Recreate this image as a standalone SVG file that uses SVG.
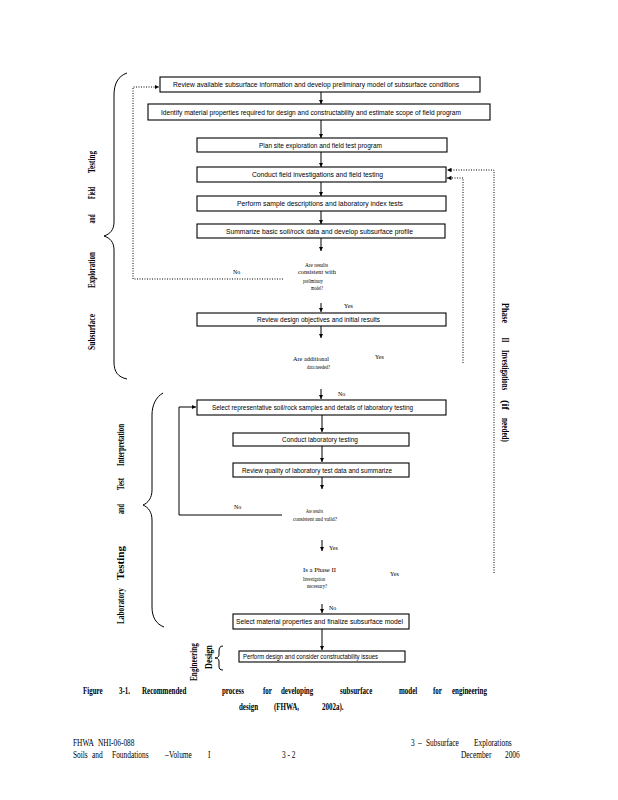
<svg xmlns="http://www.w3.org/2000/svg" width="618" height="800" viewBox="0 0 618 800">
<style>
.box{fill:#fff;stroke:#000;stroke-width:1.1}
.bt{font-family:"Liberation Sans",Arial,sans-serif;font-size:6.5px;fill:#000;text-anchor:start}
.dt{font-family:"Liberation Serif","Times New Roman",serif;font-size:5.5px;fill:#000}
.yn{font-family:"Liberation Serif","Times New Roman",serif;font-size:6px;fill:#000}
.lbl{font-family:"Liberation Serif","Times New Roman",serif;font-size:10px;font-weight:bold;fill:#000;text-anchor:middle}
.cap{font-family:"Liberation Serif","Times New Roman",serif;font-size:10px;font-weight:bold;fill:#000}
.ft{font-family:"Liberation Serif","Times New Roman",serif;font-size:10px;fill:#000}
.ln{fill:none;stroke:#000;stroke-width:1}
.dot{fill:none;stroke:#000;stroke-width:1;stroke-dasharray:1,1.5}
</style>
<defs>
<marker id="ah" viewBox="0 0 6 6" refX="6" refY="3" markerWidth="4.5" markerHeight="4.5" markerUnits="userSpaceOnUse" orient="auto"><path d="M0,0 L6,3 L0,6 z" fill="#000"/></marker>
</defs>
<rect width="618" height="800" fill="#fff"/>

<g id="connectors">
<path class="ln" d="M321,92 V104" marker-end="url(#ah)"/>
<path class="ln" d="M321,120 V138" marker-end="url(#ah)"/>
<path class="ln" d="M321,152 V167" marker-end="url(#ah)"/>
<path class="ln" d="M321,182 V196" marker-end="url(#ah)"/>
<path class="ln" d="M321,211 V224" marker-end="url(#ah)"/>
<path class="ln" d="M321,238 V251" marker-end="url(#ah)"/>
<path class="ln" d="M321,303 V312" marker-end="url(#ah)"/>
<path class="ln" d="M321,326 V338" marker-end="url(#ah)"/>
<path class="ln" d="M321,389 V399" marker-end="url(#ah)"/>
<path class="ln" d="M322,415 V432" marker-end="url(#ah)"/>
<path class="ln" d="M322,446 V462" marker-end="url(#ah)"/>
<path class="ln" d="M322,477 V489" marker-end="url(#ah)"/>
<path class="ln" d="M322,540 V551" marker-end="url(#ah)"/>
<path class="ln" d="M322,604 V613" marker-end="url(#ah)"/>
<path class="ln" d="M322,629 V650" marker-end="url(#ah)"/>
<path class="ln" d="M282,515 H179 V407 H196" marker-end="url(#ah)"/>
<path class="dot" d="M283,279 H133 V87 H159" marker-end="url(#ah)"/>
<path class="dot" d="M494,573 V170 H447" marker-end="url(#ah)"/>
<path class="dot" d="M463,363 V178 H447" marker-end="url(#ah)"/>
</g>

<g id="n1"><rect class="box" x="160" y="77" width="320" height="15"/><text class="bt" x="173" y="87" textLength="286" lengthAdjust="spacingAndGlyphs">Review   available   subsurface   information and    develop   preliminary model of subsurface   conditions</text></g>
<g id="n2"><rect class="box" x="148" y="104" width="342" height="16"/><text class="bt" x="161" y="114.5" textLength="300" lengthAdjust="spacingAndGlyphs">Identify  material  properties   required   for design   and  constructability and  estimate  scope of  field program</text></g>
<g id="n3"><rect class="box" x="197" y="138" width="250" height="14"/><text class="bt" x="259" y="147.5" textLength="123" lengthAdjust="spacingAndGlyphs">Plan site   exploration    and  field test   program</text></g>
<g id="n4"><rect class="box" x="197" y="167" width="249" height="15"/><text class="bt" x="252" y="177" textLength="131" lengthAdjust="spacingAndGlyphs">Conduct   field   investigations    and  field   testing</text></g>
<g id="n5"><rect class="box" x="197" y="196" width="249" height="15"/><text class="bt" x="237" y="206" textLength="166" lengthAdjust="spacingAndGlyphs">Perform  sample descriptions    and  laboratory   index  tests</text></g>
<g id="n6"><rect class="box" x="197" y="224" width="248" height="14"/><text class="bt" x="226" y="233.5" textLength="187" lengthAdjust="spacingAndGlyphs">Summarize    basic   soil/rock    data and  develop   subsurface    profile</text></g>
<g id="n7"><text class="dt" x="305" y="267" textLength="23" lengthAdjust="spacingAndGlyphs">Are   results</text><text class="dt" x="298" y="274" textLength="38" lengthAdjust="spacingAndGlyphs">consistent      with</text><text class="dt" x="303" y="283" textLength="20" lengthAdjust="spacingAndGlyphs">preliminary</text><text class="dt" x="311" y="290" textLength="12" lengthAdjust="spacingAndGlyphs">model?</text></g>
<g id="n8"><rect class="box" x="197" y="313" width="249" height="13"/><text class="bt" x="257" y="322" textLength="123" lengthAdjust="spacingAndGlyphs">Review   design objectives       and initial results</text></g>
<g id="n9"><text class="dt" x="293" y="361" textLength="36" lengthAdjust="spacingAndGlyphs">Are    additional</text><text class="dt" x="307" y="369" textLength="23" lengthAdjust="spacingAndGlyphs">data    needed?</text></g>
<g id="n10"><rect class="box" x="197" y="400" width="249" height="15"/><text class="bt" x="212" y="410" textLength="201" lengthAdjust="spacingAndGlyphs">Select representative      soil/rock    samples    and   details   of laboratory testing</text></g>
<g id="n11"><rect class="box" x="233" y="433" width="176" height="13"/><text class="bt" x="282" y="442" textLength="76" lengthAdjust="spacingAndGlyphs">Conduct   laboratory    testing</text></g>
<g id="n12"><rect class="box" x="233" y="463" width="176" height="14"/><text class="bt" x="242" y="472.5" textLength="150" lengthAdjust="spacingAndGlyphs">Review   quality   of laboratory test data     and   summarize</text></g>
<g id="n13"><text class="dt" x="306" y="513" textLength="17" lengthAdjust="spacingAndGlyphs">Are   results</text><text class="dt" x="293" y="521" textLength="44" lengthAdjust="spacingAndGlyphs">consistent       and valid?</text></g>
<g id="n14"><text class="dt" x="303" y="572" textLength="33" lengthAdjust="spacingAndGlyphs">Is  a  Phase    II</text><text class="dt" x="303" y="581" textLength="22" lengthAdjust="spacingAndGlyphs">Investigation</text><text class="dt" x="307" y="588" textLength="20" lengthAdjust="spacingAndGlyphs">necessary?</text></g>
<g id="n15"><rect class="box" x="233" y="614" width="176" height="15"/><text class="bt" x="236" y="624" textLength="167" lengthAdjust="spacingAndGlyphs">Select   material   properties    and  finalize   subsurface    model</text></g>
<g id="n16"><rect class="box" x="239" y="651" width="166" height="11"/><text class="bt" x="243" y="659" textLength="135" lengthAdjust="spacingAndGlyphs">Perform design      and   consider constructability issues</text></g>

<g id="yesno">
<text class="yn" x="233" y="274">No</text>
<text class="yn" x="344" y="308">Yes</text>
<text class="yn" x="375" y="359">Yes</text>
<text class="yn" x="338" y="396">No</text>
<text class="yn" x="234" y="509">No</text>
<text class="yn" x="329" y="550">Yes</text>
<text class="yn" x="390" y="576">Yes</text>
<text class="yn" x="329" y="610">No</text>
</g>

<g id="braces">
<path class="ln" d="M127,73 C118,76 114,84 114,95 L114,222 C114,230 110,234 104,236 C110,238 114,242 114,250 L114,362 C114,372 118,377 127,379"/>
<path class="ln" d="M163,393 C156,397 152,405 152,415 L152,490 C152,498 148,503 143,505 C148,507 152,512 152,520 L152,607 C152,617 156,624 164,627"/>
<path class="ln" d="M223,646 C220,646 219,648 219,651 L219,655 C219,657 217,658 215,658 C217,658 219,659 219,661 L219,666 C219,669 220,670 223,670"/>
</g>

<g id="phase-labels">
<g transform="rotate(-90)">
<text class="lbl" x="-162" y="95" textLength="22" lengthAdjust="spacingAndGlyphs">Testing</text>
<text class="lbl" x="-193" y="95" textLength="12" lengthAdjust="spacingAndGlyphs">Field</text>
<text class="lbl" x="-219" y="95" textLength="9" lengthAdjust="spacingAndGlyphs">and</text>
<text class="lbl" x="-270" y="95" textLength="36" lengthAdjust="spacingAndGlyphs">Exploration</text>
<text class="lbl" x="-332" y="95" textLength="36" lengthAdjust="spacingAndGlyphs">Subsurface</text>
<text class="lbl" x="-445" y="124" textLength="42" lengthAdjust="spacingAndGlyphs">Interpretation</text>
<text class="lbl" x="-484" y="124" textLength="12" lengthAdjust="spacingAndGlyphs">Test</text>
<text class="lbl" x="-509" y="124" textLength="10" lengthAdjust="spacingAndGlyphs">and</text>
<text class="lbl" x="-563" y="124" textLength="34" lengthAdjust="spacingAndGlyphs">Testing</text>
<text class="lbl" x="-606" y="124" textLength="36" lengthAdjust="spacingAndGlyphs">Laboratory</text>
<text class="lbl" x="-662" y="197" textLength="38" lengthAdjust="spacingAndGlyphs">Engineering</text>
<text class="lbl" x="-657" y="212" textLength="24" lengthAdjust="spacingAndGlyphs">Design</text>
</g>
<g transform="rotate(90)">
<text class="lbl" x="313" y="-502" textLength="20" lengthAdjust="spacingAndGlyphs">Phase</text>
<text class="lbl" x="340" y="-502" textLength="5" lengthAdjust="spacingAndGlyphs">II</text>
<text class="lbl" x="370" y="-502" textLength="40" lengthAdjust="spacingAndGlyphs">Investigations</text>
<text class="lbl" x="405" y="-502" textLength="10" lengthAdjust="spacingAndGlyphs">(if</text>
<text class="lbl" x="430" y="-502" textLength="24" lengthAdjust="spacingAndGlyphs">needed)</text>
</g>
</g>

<g id="caption" transform="scale(0.7,1)">
<text class="cap" y="694"><tspan x="118.6">Figure</tspan><tspan x="170">3-1.</tspan><tspan x="202.9">Recommended</tspan><tspan x="317.1">process</tspan><tspan x="375.7">for</tspan><tspan x="401.4">developing</tspan><tspan x="485.7">subsurface</tspan><tspan x="570">model</tspan><tspan x="618.6">for</tspan><tspan x="645.7">engineering</tspan></text>
<text class="cap" y="710"><tspan x="341.4">design</tspan><tspan x="391.4">(FHWA,</tspan><tspan x="460">2002a).</tspan></text>
</g>

<g id="footer" transform="scale(0.74,1)">
<text class="ft" y="746"><tspan x="98.6">FHWA</tspan><tspan x="132.4">NHI-06-088</tspan><tspan x="555.4">3</tspan><tspan x="564.9">–</tspan><tspan x="575.7">Subsurface</tspan><tspan x="640.5">Explorations</tspan></text>
<text class="ft" y="758"><tspan x="98.6">Soils</tspan><tspan x="124.3">and</tspan><tspan x="151.4">Foundations</tspan><tspan x="223">–</tspan><tspan x="228.4">Volume</tspan><tspan x="281.1">I</tspan><tspan x="381.1">3 - 2</tspan><tspan x="623">December</tspan><tspan x="682.4">2006</tspan></text>
</g>
</svg>
